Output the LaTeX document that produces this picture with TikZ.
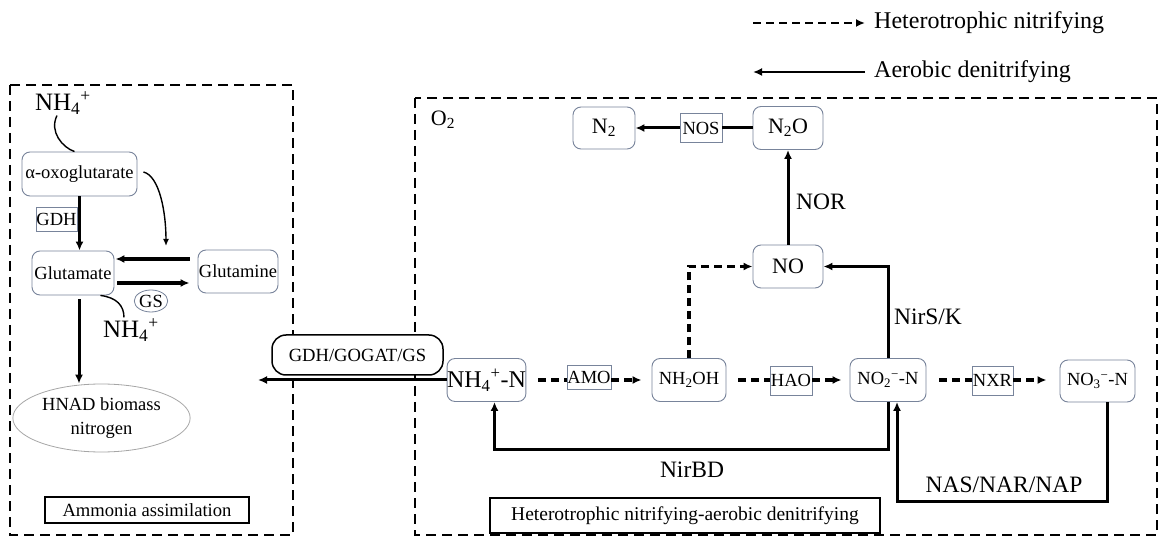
\documentclass[tikz,border=0pt]{standalone}
\usepackage{fontspec}
\setmainfont{Liberation Serif}
\usetikzlibrary{arrows.meta,shapes.geometric}
\definecolor{boxedge}{RGB}{120,132,155}
\newcommand{\ammon}{NH\textsubscript{4}\textsuperscript{+}}
\tikzset{
    fs/.style={font=\fontsize{#1}{24pt}\selectfont},
    species/.style={draw=boxedge,line width=0.9pt,rounded corners=8pt,inner sep=0pt,fs=18.5},
    enzyme/.style={draw=boxedge,line width=0.8pt,inner sep=0pt,fs=18.5},
    bigbox/.style={line width=2.8pt,dash pattern=on 10pt off 6pt},
    headtip/.style={-{Latex[length=9pt,width=8pt]}},
    smalltip/.style={-{Latex[length=7pt,width=6pt]}},
    solidline/.style={line width=3pt},
    dashline/.style={line width=3.2pt,dash pattern=on 8pt off 5pt},
    denitr/.style={solidline,headtip},
    nitr/.style={dashline,headtip},
}
\begin{document}
\begin{tikzpicture}[x=1pt,y=-1pt]
        \useasboundingbox[fill=white] (0,0) rectangle (1160,537);
        \draw[bigbox] (10,85) rectangle (293,535);
        \draw[bigbox] (415,98) rectangle (1157,535);
        \begin{scope}[every node/.style={species,minimum width=74pt,minimum height=43pt}]
            \node (oxo) [minimum width=115pt,minimum height=44pt] at (79.5,174) {α-oxoglutarate};
            \node (glu) [minimum width=82pt,minimum height=44pt] at (73,273) {Glutamate};
            \node (gln) [minimum width=80pt] at (238,271.5) {Glutamine};
            \node (n2) [minimum width=62pt,minimum height=42pt,fs=22] at (604,128) {N\textsubscript{2}};
            \node (n2o) [minimum width=70pt,fs=22] at (788,128) {N\textsubscript{2}O};
            \node (no) [minimum width=70pt,fs=22] at (788,266.5) {NO};
            \node (nh4n) [minimum width=76pt,fs=24] at (486.5,380) {\ammon-N};
            \node (nh2oh) at (689,380) {NH\textsubscript{2}OH};
            \node (no2) [minimum width=76pt] at (888,380) {NO\textsubscript{2}\textsuperscript{−}-N};
            \node (no3) [minimum width=75pt,minimum height=42pt] at (1097.5,381) {NO\textsubscript{3}\textsuperscript{−}-N};
        \end{scope}
        \begin{scope}[every node/.style={enzyme,minimum width=42pt,minimum height=29pt}]
            \node (gdh) [minimum width=41pt,minimum height=24pt] at (56.5,219) {GDH};
            \node (nos) at (701,128) {NOS};
            \node (amo) [minimum width=44pt,minimum height=24pt] at (589,377) {AMO};
            \node (hao) at (791,380.5) {HAO};
            \node (nxr) [minimum width=41pt] at (992.5,380.5) {NXR};
        \end{scope}
        \node (gs) [ellipse,draw=boxedge,line width=0.8pt,minimum width=28pt,minimum height=22pt,inner sep=0pt,fs=18.5] at (151,301) {GS};
        \node (bio) [ellipse,draw=gray!70,line width=0.8pt,minimum width=177pt,minimum height=68pt,align=center,fs=18.5] at (101.5,418) {HNAD biomass\\nitrogen};
        \node (ammo) [draw,line width=1.8pt,minimum width=204pt,minimum height=26pt,inner sep=0pt,fs=18.6] at (147,510) {Ammonia assimilation};
        \node (gogat) [draw,fill=white,line width=1.5pt,rounded corners=14pt,minimum width=171pt,minimum height=40pt,inner sep=0pt,fs=18.6] at (357.5,355) {GDH/GOGAT/GS};
        \node (hetbox) [draw,line width=2pt,minimum width=390pt,minimum height=35pt,inner sep=0pt,fs=19.5] at (685,515.5) {Heterotrophic nitrifying-aerobic denitrifying};
        \node (nhtop) [inner sep=1pt,fs=25] at (63,103) {\ammon};
        \node (nhgs) [inner sep=1pt,fs=25] at (131,330) {\ammon};
        \node (otwo) [fs=22] at (443,120) {O\textsubscript{2}};
        \node (nor) [fs=23.5] at (821,202) {NOR};
        \node (nirsk) [fs=23.5] at (928,317) {NirS/K};
        \node (nirbd) [fs=23.5] at (692,470) {NirBD};
        \node (nas) [fs=23.5] at (1004,485) {NAS/NAR/NAP};
        \node (legnit) [anchor=west,inner sep=0pt,fs=24] at (874,23) {Heterotrophic nitrifying};
        \node (legden) [anchor=west,inner sep=0pt,fs=24] at (874,72) {Aerobic denitrifying};
        \coordinate (gsin) at (166,246);
        \coordinate (asml) at (258,380);
        \draw[nitr,line width=2.8pt] ([xshift=-121pt]legnit.west) -- ([xshift=-9pt]legnit.west);
        \draw[denitr,line width=2.6pt] ([xshift=-9pt]legden.west) -- ([xshift=-121pt]legden.west);
        \draw[line width=1.4pt] ([xshift=-6pt]nhtop.south) .. controls +(-8,16) and +(-12,-4) .. ([xshift=-5pt]oxo.north);
        \draw[line width=1.4pt,smalltip] ([xshift=6pt,yshift=2pt]oxo.east) .. controls +(16,4) and +(0,-34) .. (gsin);
        \draw[line width=1.4pt] ([xshift=-14pt]glu.south east) .. controls +(16,2) and +(0,-12) .. ([xshift=-7pt]nhgs.north);
        \begin{scope}[every edge/.style={draw,denitr}]
            \path
                (oxo.south) edge (oxo.south |- glu.north)
                ([xshift=-8pt,yshift=12.5pt]gln.west) edge [line width=3.8pt] ([xshift=1pt,yshift=14pt]glu.east)
                ([xshift=3pt,yshift=-10pt]glu.east) edge [line width=3.8pt] ([xshift=-8pt,yshift=-11.5pt]gln.west)
                ([xshift=6pt,yshift=-4pt]glu.south) edge ([xshift=6pt]glu.south |- bio.north)
                (nh4n.west) edge (asml)
                (nos.west) edge (n2.east)
                (no) edge (n2o);
        \end{scope}
        \draw[solidline] (n2o.west) -- (nos.east);
        \draw[dashline] ([xshift=12pt]nh4n.east) -- (amo.west |- nh4n.east);
        \draw[nitr] (amo.east |- nh4n.east) -- ([xshift=-10pt]nh2oh.west);
        \draw[dashline] ([xshift=12pt]nh2oh.east) -- (hao.west |- nh2oh.east);
        \draw[nitr] (hao.east |- nh2oh.east) -- ([xshift=-8pt]no2.west);
        \draw[dashline] ([xshift=13pt]no2.east) -- (nxr.west |- no2.east);
        \draw[nitr] (nxr.east |- no2.east) -- ([xshift=-13pt]no3.west |- no2.east);
        \draw[nitr] (nh2oh.north) |- (no.west);
        \draw[denitr] (no2.north) |- (no.east);
        \draw[denitr] (no2.south) -- ++(0,48) -| ([xshift=8pt]nh4n.south);
        \draw[denitr] ([xshift=10pt]no3.south) -- ++(0,99) -| ([xshift=9pt]no2.south);
    \end{tikzpicture}
\end{document}
